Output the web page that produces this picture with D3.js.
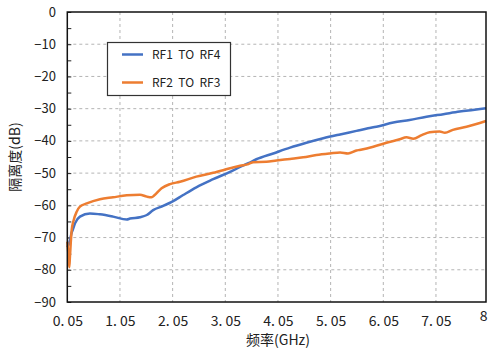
<!DOCTYPE html>
<html><head><meta charset="utf-8">
<script src="https://cdn.jsdelivr.net/npm/d3@7"></script>
<style>body{margin:0;background:#fff}svg{display:block}</style>
</head><body>
<script>
const xTicks = [0.05, 1.05, 2.05, 3.05, 4.05, 5.05, 6.05, 7.05, 8];
const xTickLabels = ["0. 05","1. 05","2. 05","3. 05","4. 05","5. 05","6. 05","7. 05","8"];
const yTicks = [0,-10,-20,-30,-40,-50,-60,-70,-80,-90];
const seriesNames = ["RF1  TO  RF4", "RF2  TO  RF3"];
const blueX = [0.05,0.08,0.1,0.133,0.152,0.196,0.29,0.48,0.67,0.92,1.18,1.24,1.43,1.56,1.68,1.87,2.06,2.25,2.5,2.82,3.14,3.33,3.49,3.64,3.96,4.28,4.59,4.91,5.23,5.54,5.76,5.92,6.24,6.55,6.87,7.19,7.5,7.75,8];
const blueY = [-73,-72,-70.8,-68.5,-67.7,-65.6,-63.5,-62.5,-62.8,-63.5,-64.4,-64.1,-63.7,-63.0,-61.5,-60.2,-58.7,-56.8,-54.4,-51.9,-49.6,-48.1,-46.9,-45.7,-43.9,-42.1,-40.6,-39.2,-38.0,-36.9,-36.1,-35.6,-34.3,-33.5,-32.5,-31.7,-30.9,-30.4,-29.9];
const orangeX = [0.05,0.07,0.088,0.1,0.133,0.164,0.228,0.29,0.42,0.67,0.92,1.18,1.43,1.56,1.65,1.71,1.84,2.0,2.19,2.5,2.82,3.14,3.33,3.49,3.58,3.83,4.02,4.28,4.53,4.78,5.04,5.23,5.38,5.54,5.6,5.86,6.11,6.36,6.49,6.62,6.78,6.93,7.12,7.22,7.37,7.63,8];
const orangeY = [-71.3,-75,-79.2,-76,-67.7,-65,-62,-60.4,-59.4,-58.1,-57.5,-56.9,-56.7,-57.3,-57.5,-56.8,-54.7,-53.4,-52.7,-51.1,-49.9,-48.5,-47.7,-47.2,-46.6,-46.5,-46.1,-45.6,-45.1,-44.4,-43.9,-43.6,-43.9,-43.0,-42.8,-41.8,-40.6,-39.5,-38.9,-39.3,-38.2,-37.3,-37.1,-37.5,-36.6,-35.6,-33.8];
const colors = ["#4472C4", "#ED7D31"];

const W = 488, H = 348;
const m = {l: 67.3, r: 2, t: 12, b: 46};
const svg = d3.select("body").append("svg").attr("width", W).attr("height", H);
const x = d3.scaleLinear().domain([0.05, 8]).range([m.l, W - m.r]);
const y = d3.scaleLinear().domain([-90, 0]).range([H - m.b, m.t]);
const font = "'Noto Sans CJK SC', 'Noto Sans', sans-serif";

// gridlines
svg.append("g").selectAll("line").data(yTicks.slice(1, -1)).join("line")
  .attr("x1", x(0.05)).attr("x2", x(8)).attr("y1", d => y(d)).attr("y2", d => y(d))
  .attr("stroke", "#b4b4b4").attr("stroke-dasharray", "3,3").attr("stroke-width", 1);
svg.append("g").selectAll("line").data(xTicks.slice(1, -1)).join("line")
  .attr("y1", y(0)).attr("y2", y(-90)).attr("x1", d => x(d)).attr("x2", d => x(d))
  .attr("stroke", "#b4b4b4").attr("stroke-dasharray", "3,3").attr("stroke-width", 1);

// y axis ticks (inside, every 5)
const yAxis = d3.axisLeft(y).tickValues(d3.range(-90, 1, 5)).tickSize(-4).tickFormat("");
svg.append("g").attr("transform", `translate(${m.l},0)`).call(yAxis)
  .call(g => g.select(".domain").remove())
  .call(g => g.selectAll("line").attr("stroke", "#222"));

// y labels
svg.append("g").selectAll("text").data(yTicks).join("text")
  .attr("x", 56).attr("y", d => y(d)).attr("dy", "0.35em").attr("text-anchor", "end")
  .attr("font-family", font).attr("font-size", 13).attr("fill", "#222")
  .text(d => d === 0 ? "0" : "\u2212" + Math.abs(d));

// x labels
const last = xTicks.length - 1;
const xAxis = d3.axisBottom(x).tickValues(xTicks).tickSize(0).tickPadding(0)
  .tickFormat((d, i) => xTickLabels[i]);
svg.append("g").attr("transform", `translate(0,${y(-90)})`).call(xAxis)
  .call(g => g.select(".domain").remove())
  .call(g => g.selectAll("text").attr("font-family", font).attr("font-size", 14).attr("fill", "#222")
     .attr("dy", 0).attr("y", (d, i) => i === last ? 19 : 24)
     .attr("text-anchor", (d, i) => i === last ? "end" : "middle")
     .attr("x", (d, i) => i === last ? 1 : 0));

// lines
const line = d3.line().x(d => x(d[0])).y(d => y(d[1])).curve(d3.curveMonotoneX);
const series = [d3.zip(blueX, blueY), d3.zip(orangeX, orangeY)];
svg.append("g").selectAll("path").data(series).join("path")
  .attr("d", line).attr("fill", "none")
  .attr("stroke", (d, i) => colors[i]).attr("stroke-width", 2.5).attr("stroke-linejoin", "round");

// frame
svg.append("rect").attr("x", m.l).attr("y", m.t).attr("width", x(8) - m.l).attr("height", y(-90) - m.t)
  .attr("fill", "none").attr("stroke", "#111").attr("stroke-width", 1.5);

// legend
const lg = svg.append("g");
lg.append("rect").attr("x", 107.5).attr("y", 42.5).attr("width", 123).attr("height", 53)
  .attr("fill", "#fff").attr("stroke", "#333").attr("stroke-width", 1.2);
seriesNames.forEach((n, i) => {
  const yy = 54.5 + i * 28;
  lg.append("line").attr("x1", 122).attr("x2", 143).attr("y1", yy).attr("y2", yy)
    .attr("stroke", colors[i]).attr("stroke-width", 2.5);
  lg.append("text").attr("x", 152).attr("y", yy).attr("dy", "0.36em")
    .attr("font-family", font).attr("font-size", 12).attr("fill", "#222")
    .attr("xml:space", "preserve").style("white-space", "pre").text(n);
});

// titles
svg.append("text").attr("x", 278).attr("y", 345).attr("text-anchor", "middle")
  .attr("font-family", font).attr("font-size", 14).attr("fill", "#222").text("频率(GHz)");
svg.append("text").attr("transform", `translate(20,${y(-45)}) rotate(-90)`).attr("text-anchor", "middle")
  .attr("font-family", font).attr("font-size", 14).attr("fill", "#222").text("隔离度(dB)");
</script>
</body></html>
